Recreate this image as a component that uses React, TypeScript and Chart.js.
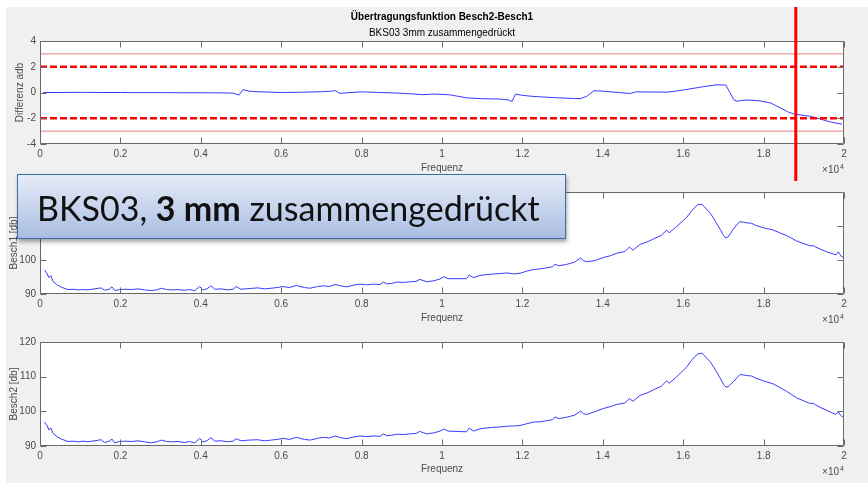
import React, { useEffect, useRef } from 'react';
import { Chart, registerables } from 'chart.js';

Chart.register(...registerables);

// ---------- data ----------
const xTickVals = [0, 0.2, 0.4, 0.6, 0.8, 1, 1.2, 1.4, 1.6, 1.8, 2];
const xTickLabels = ['0', '0.2', '0.4', '0.6', '0.8', '1', '1.2', '1.4', '1.6', '1.8', '2'];
const diffTickVals = [-4, -2, 0, 2, 4];
const diffTickLabels = ['-4', '-2', '0', '2', '4'];
const dbTickVals = [90, 100, 110, 120];
const dbTickLabels = ['90', '100', '110', '120'];

const toleranceInner = 2;
const toleranceOuter = 3;
const markerFreq = 1.88;

// Frequency in units of 1e4 Hz
const freqDiff = [
  0.008, 0.05, 0.1, 0.15, 0.2, 0.25, 0.3, 0.35, 0.4, 0.45, 0.48, 0.495, 0.505, 0.52, 0.55, 0.6,
  0.65, 0.7, 0.725, 0.735, 0.745, 0.76, 0.8, 0.85, 0.9, 0.93, 0.953, 0.98, 1.02, 1.062, 1.1,
  1.146, 1.165, 1.174, 1.183, 1.2, 1.229, 1.28, 1.33, 1.345, 1.36, 1.378, 1.4, 1.41, 1.44,
  1.469, 1.482, 1.52, 1.56, 1.58, 1.609, 1.65, 1.684, 1.706, 1.716, 1.726, 1.734, 1.745,
  1.759, 1.79, 1.818, 1.842, 1.86, 1.876, 1.9, 1.917, 1.94, 1.958, 1.98, 1.995,
];
const diffAdb = [
  0.0, 0.0, 0.01, 0.0, 0.0, -0.01, -0.01, -0.02, -0.02, -0.03, -0.05, -0.2, 0.23, 0.1, 0.05, 0.0,
  0.02, 0.06, 0.1, 0.15, -0.07, -0.03, 0.05, 0.0, -0.06, -0.12, -0.17, -0.12, -0.18, -0.42, -0.48,
  -0.51, -0.58, -0.7, -0.12, -0.22, -0.31, -0.4, -0.47, -0.47, -0.3, 0.14, 0.1, 0.08, 0.0,
  -0.08, 0.05, 0.04, 0.03, 0.1, 0.24, 0.45, 0.6, 0.58, 0.0, -0.57, -0.68, -0.62,
  -0.58, -0.65, -0.82, -1.2, -1.5, -1.68, -1.78, -1.85, -2.05, -2.22, -2.38, -2.45,
];

const freqSpec = [
  0.011, 0.018, 0.022, 0.027, 0.032, 0.041, 0.053, 0.07, 0.082, 0.095,
  0.107, 0.119, 0.135, 0.152, 0.161, 0.172, 0.179, 0.186, 0.198, 0.211,
  0.227, 0.244, 0.26, 0.277, 0.29, 0.302, 0.315, 0.327, 0.343, 0.36,
  0.372, 0.385, 0.397, 0.405, 0.415, 0.425, 0.435, 0.45, 0.468, 0.48,
  0.488, 0.5, 0.52, 0.542, 0.558, 0.575, 0.59, 0.604, 0.62, 0.638,
  0.658, 0.672, 0.69, 0.705, 0.72, 0.734, 0.748, 0.763, 0.78, 0.796,
  0.812, 0.829, 0.846, 0.854, 0.862, 0.875, 0.887, 0.905, 0.92, 0.935,
  0.945, 0.962, 0.98, 0.995, 1.005, 1.015, 1.037, 1.061, 1.068, 1.078,
  1.09, 1.102, 1.128, 1.145, 1.161, 1.18, 1.194, 1.21, 1.227, 1.245,
  1.26, 1.275, 1.281, 1.29, 1.31, 1.33, 1.345, 1.352, 1.36, 1.38,
  1.401, 1.42, 1.435, 1.455, 1.466, 1.475, 1.493, 1.51, 1.526, 1.545,
  1.559, 1.565, 1.584, 1.6, 1.609, 1.62, 1.629, 1.637, 1.642, 1.647,
  1.652, 1.66, 1.667, 1.675, 1.683, 1.692, 1.7, 1.706, 1.712, 1.718,
  1.725, 1.733, 1.741, 1.75, 1.76, 1.77, 1.78, 1.799, 1.81, 1.824,
  1.84, 1.857, 1.87, 1.882, 1.9, 1.915, 1.924, 1.93, 1.945, 1.957,
  1.97, 1.98, 1.986, 1.992, 1.998,
];
const besch1Db = [
  97.1, 95.9, 94.8, 95.4, 93.8, 92.8, 92.0, 91.3, 91.4, 91.2,
  91.3, 91.2, 91.5, 91.8, 91.1, 91.4, 92.1, 91.0, 91.3, 91.4,
  91.3, 91.5, 91.2, 91.0, 91.2, 91.7, 91.3, 91.2, 91.3, 91.1,
  91.3, 91.0, 92.2, 91.2, 91.5, 92.4, 91.4, 91.5, 91.2, 91.4,
  92.2, 91.4, 91.6, 91.8, 91.5, 91.7, 91.9, 92.2, 91.9, 92.5,
  91.9, 91.7, 92.2, 92.4, 92.2, 92.8, 92.4, 92.1, 92.6, 92.9,
  92.7, 92.9, 92.8, 93.5, 93.0, 93.1, 93.5, 93.4, 93.6, 93.7,
  94.3, 93.6, 93.9, 94.4, 95.1, 94.5, 94.5, 94.5, 95.6, 94.8,
  95.3, 95.6, 95.9, 96.0, 96.2, 95.9, 96.1, 96.7, 97.2, 97.4,
  97.7, 98.0, 98.8, 98.3, 98.7, 99.4, 100.6, 99.8, 99.5, 99.8,
  100.7, 101.3, 102.0, 102.5, 103.8, 102.9, 104.6, 105.3, 106.2, 107.2,
  108.8, 108.0, 109.9, 111.6, 112.6, 114.3, 115.5, 116.3, 116.3, 116.4,
  115.7, 114.7, 113.8, 112.4, 110.8, 109.0, 107.3, 106.5, 106.8, 107.9,
  109.1, 110.3, 111.3, 111.1, 110.9, 110.8, 110.2, 109.5, 109.2, 108.8,
  108.0, 107.2, 106.4, 105.6, 104.8, 104.2, 104.2, 103.8, 103.0, 102.4,
  101.9, 101.5, 102.4, 101.2, 100.8,
];
const besch2Db = [
  96.9, 95.8, 94.6, 95.2, 93.7, 92.8, 92.0, 91.3, 91.4, 91.2,
  91.4, 91.2, 91.5, 91.8, 91.0, 91.4, 92.0, 90.9, 91.3, 91.4,
  91.3, 91.5, 91.2, 90.9, 91.2, 91.7, 91.3, 91.2, 91.3, 91.0,
  91.3, 90.9, 92.2, 91.2, 91.5, 92.4, 91.4, 91.5, 91.2, 91.4,
  92.1, 91.5, 91.7, 91.8, 91.5, 91.7, 91.9, 92.2, 91.9, 92.5,
  91.9, 91.7, 92.2, 92.5, 92.3, 92.9, 92.4, 92.1, 92.6, 92.9,
  92.7, 92.9, 92.8, 93.5, 93.0, 93.1, 93.4, 93.3, 93.5, 93.6,
  94.2, 93.5, 93.8, 94.3, 94.9, 94.3, 94.2, 94.1, 95.2, 94.3,
  94.8, 95.1, 95.4, 95.5, 95.7, 95.8, 95.9, 96.4, 96.9, 97.0,
  97.3, 97.6, 98.4, 97.9, 98.3, 98.9, 100.1, 99.3, 99.1, 99.9,
  100.8, 101.4, 102.0, 102.4, 103.7, 102.9, 104.6, 105.3, 106.2, 107.2,
  108.8, 108.1, 110.0, 111.8, 112.8, 114.6, 115.8, 116.6, 116.7, 116.8,
  116.1, 115.2, 114.3, 112.9, 111.4, 109.6, 107.8, 107.0, 107.1, 107.8,
  108.5, 109.6, 110.6, 110.5, 110.3, 110.2, 109.6, 108.8, 108.4, 107.9,
  106.9, 105.8, 104.8, 103.9, 103.0, 102.3, 102.3, 101.8, 100.9, 100.3,
  99.6, 99.1, 99.9, 98.8, 98.3,
];

// ---------- styling ----------
const FONT = "'Liberation Sans', Arial, Helvetica, sans-serif";
const AXIS_COLOR = '#6a6a6a';
const TEXT_COLOR = '#4a4a4a';
const BLUE = '#3b3bff';

const matlabAxes = {
  id: 'matlabAxes',
  beforeDraw(chart: any) {
    const { ctx, chartArea: a } = chart;
    ctx.save();
    ctx.fillStyle = '#ffffff';
    ctx.fillRect(a.left, a.top, a.right - a.left, a.bottom - a.top);
    ctx.restore();
  },
  afterDatasetsDraw(chart: any) {
    const { ctx, chartArea: a, scales } = chart;
    const L = Math.round(a.left) + 0.5;
    const R = Math.round(a.right) - 0.5;
    const T = Math.round(a.top) + 0.5;
    const B = Math.round(a.bottom) - 0.5;
    ctx.save();
    ctx.strokeStyle = AXIS_COLOR;
    ctx.lineWidth = 1;
    ctx.beginPath();
    ctx.rect(L, T, R - L, B - T);
    const tl = 6;
    scales.x.ticks.forEach((t: any) => {
      const px = Math.round(scales.x.getPixelForValue(t.value)) + 0.5;
      ctx.moveTo(px, B);
      ctx.lineTo(px, B - tl);
      ctx.moveTo(px, T);
      ctx.lineTo(px, T + tl);
    });
    scales.y.ticks.forEach((t: any) => {
      const py = Math.round(scales.y.getPixelForValue(t.value)) + 0.5;
      ctx.moveTo(L, py);
      ctx.lineTo(L + tl, py);
      ctx.moveTo(R, py);
      ctx.lineTo(R - tl, py);
    });
    ctx.stroke();
    ctx.restore();
  },
  afterDraw(chart: any, _args: any, opts: any) {
    const { ctx, chartArea: a, scales } = chart;
    ctx.save();
    ctx.fillStyle = TEXT_COLOR;
    ctx.textAlign = 'right';
    ctx.textBaseline = 'alphabetic';
    ctx.font = `7px ${FONT}`;
    ctx.fillText('4', a.right, a.bottom + 25);
    ctx.font = `10px ${FONT}`;
    ctx.fillText('\u00d710', a.right - 5, a.bottom + 29);
    if (opts && opts.marker != null) {
      const px = scales.x.getPixelForValue(opts.marker);
      ctx.strokeStyle = '#ff0000';
      ctx.lineWidth = 3;
      ctx.beginPath();
      ctx.moveTo(px, 0);
      ctx.lineTo(px, chart.height - 1);
      ctx.stroke();
    }
    ctx.restore();
  },
};

const line = (xs: number[], ys: number[]) => xs.map((x, i) => ({ x, y: ys[i] }));
const hline = (y: number) => [
  { x: 0, y },
  { x: 2, y },
];

function buildConfig(p: any) {
  return {
    type: 'line',
    data: { datasets: p.datasets },
    plugins: [matlabAxes],
    options: {
      animation: false,
      responsive: false,
      devicePixelRatio: 1,
      events: [],
      layout: { padding: { left: 0, right: 24, top: p.padTop, bottom: 0 } },
      elements: { point: { radius: 0 }, line: { tension: 0 } },
      plugins: {
        legend: { display: false },
        tooltip: { enabled: false },
        title: p.titles
          ? {
              display: true,
              text: p.titles[0],
              fullSize: false,
              color: '#000',
              font: { family: FONT, size: 10, weight: 'bold' },
              padding: { top: 4, bottom: 0 },
            }
          : { display: false },
        subtitle: p.titles
          ? {
              display: true,
              text: p.titles[1],
              fullSize: false,
              color: '#000',
              font: { family: FONT, size: 10 },
              padding: { top: 4, bottom: 2 },
            }
          : { display: false },
        matlabAxes: { marker: p.marker ?? null },
      },
      scales: {
        x: {
          type: 'linear',
          min: 0,
          max: 2,
          grid: { display: false, drawTicks: false },
          border: { display: false },
          afterBuildTicks: (s: any) => {
            s.ticks = xTickVals.map((v) => ({ value: v }));
          },
          afterFit: (s: any) => {
            s.height = p.axisHeight;
          },
          ticks: {
            padding: 4,
            color: TEXT_COLOR,
            font: { family: FONT, size: 10 },
            maxRotation: 0,
            autoSkip: false,
            callback: (_v: any, i: number) => xTickLabels[i],
          },
          title: {
            display: true,
            text: 'Frequenz',
            color: TEXT_COLOR,
            font: { family: FONT, size: 10 },
            padding: { top: 0, bottom: p.xTitlePad },
          },
        },
        y: {
          type: 'linear',
          min: p.yMin,
          max: p.yMax,
          grid: { display: false, drawTicks: false },
          border: { display: false },
          afterBuildTicks: (s: any) => {
            s.ticks = p.yTickVals.map((v: number) => ({ value: v }));
          },
          afterFit: (s: any) => {
            s.width = 40;
          },
          ticks: {
            padding: 4,
            color: TEXT_COLOR,
            font: { family: FONT, size: 10 },
            autoSkip: false,
            callback: (_v: any, i: number) => p.yTickLabels[i],
          },
          title: {
            display: true,
            text: p.yTitle,
            color: TEXT_COLOR,
            font: { family: FONT, size: 10 },
            padding: { top: p.yTitlePad, bottom: 0 },
          },
        },
      },
    },
  };
}

export default function App() {
  const c1 = useRef<HTMLCanvasElement>(null);
  const c2 = useRef<HTMLCanvasElement>(null);
  const c3 = useRef<HTMLCanvasElement>(null);

  useEffect(() => {
    const blueLine = (data: any) => ({
      data,
      borderColor: BLUE,
      borderWidth: 1,
      pointRadius: 0,
      fill: false,
    });
    const charts: Chart[] = [];
    charts.push(
      new Chart(
        c1.current as HTMLCanvasElement,
        buildConfig({
          titles: ['Übertragungsfunktion Besch2-Besch1', 'BKS03 3mm zusammengedrückt'],
          padTop: 0,
          axisHeight: 38,
          xTitlePad: 8,
          yMin: -4,
          yMax: 4,
          yTickVals: diffTickVals,
          yTickLabels: diffTickLabels,
          yTitle: 'Differenz adb',
          yTitlePad: 14,
          marker: markerFreq,
          datasets: [
            { data: hline(toleranceInner), borderColor: '#ff0000', borderWidth: 2.5, borderDash: [7, 3], pointRadius: 0 },
            { data: hline(-toleranceInner), borderColor: '#ff0000', borderWidth: 2.5, borderDash: [7, 3], pointRadius: 0 },
            blueLine(line(freqDiff, diffAdb)),
            { data: hline(toleranceOuter), borderColor: 'rgb(226,128,128)', borderWidth: 1, pointRadius: 0 },
            { data: hline(-toleranceOuter), borderColor: 'rgb(226,128,128)', borderWidth: 1, pointRadius: 0 },
          ],
        }) as any
      )
    );
    charts.push(
      new Chart(
        c2.current as HTMLCanvasElement,
        buildConfig({
          padTop: 9,
          axisHeight: 36,
          xTitlePad: 6,
          yMin: 90,
          yMax: 120,
          yTickVals: dbTickVals,
          yTickLabels: dbTickLabels,
          yTitle: 'Besch1 [db]',
          yTitlePad: 8,
          datasets: [blueLine(line(freqSpec, besch1Db))],
        }) as any
      )
    );
    charts.push(
      new Chart(
        c3.current as HTMLCanvasElement,
        buildConfig({
          padTop: 12,
          axisHeight: 37,
          xTitlePad: 8,
          yMin: 90,
          yMax: 120,
          yTickVals: dbTickVals,
          yTickLabels: dbTickLabels,
          yTitle: 'Besch2 [db]',
          yTitlePad: 8,
          datasets: [blueLine(line(freqSpec, besch2Db))],
        }) as any
      )
    );
    return () => charts.forEach((c) => c.destroy());
  }, []);

  const canvasStyle = (top: number, height: number): React.CSSProperties => ({
    position: 'absolute',
    left: 0,
    top,
    width: 868,
    height,
    display: 'block',
  });

  return (
    <div style={{ position: 'absolute', left: 0, top: 0, width: 868, height: 483, background: '#fff', overflow: 'hidden' }}>
      <div style={{ position: 'absolute', left: 6, top: 7, right: 0, bottom: 0, background: '#f0f0f0' }} />
      <canvas ref={c1} width={868} height={175} style={canvasStyle(7, 175)} />
      <canvas ref={c2} width={868} height={148} style={canvasStyle(182, 148)} />
      <canvas ref={c3} width={868} height={153} style={canvasStyle(330, 153)} />
      <div
        style={{
          position: 'absolute',
          left: 17,
          top: 174,
          width: 549,
          height: 65,
          boxSizing: 'border-box',
          border: '1px solid #3d6cab',
          background: 'linear-gradient(#e6ecf7, #a9bde2)',
          boxShadow: '1px 3px 4px rgba(0,0,0,0.35)',
          display: 'flex',
          alignItems: 'center',
          paddingLeft: 19,
          paddingTop: 1,
          fontFamily: 'Lato, "Open Sans", sans-serif',
          fontSize: 34,
          color: '#111',
          whiteSpace: 'nowrap',
        }}
      >
        <span>
          BKS03, <b>3 mm</b> zusammengedrückt
        </span>
      </div>
    </div>
  );
}
